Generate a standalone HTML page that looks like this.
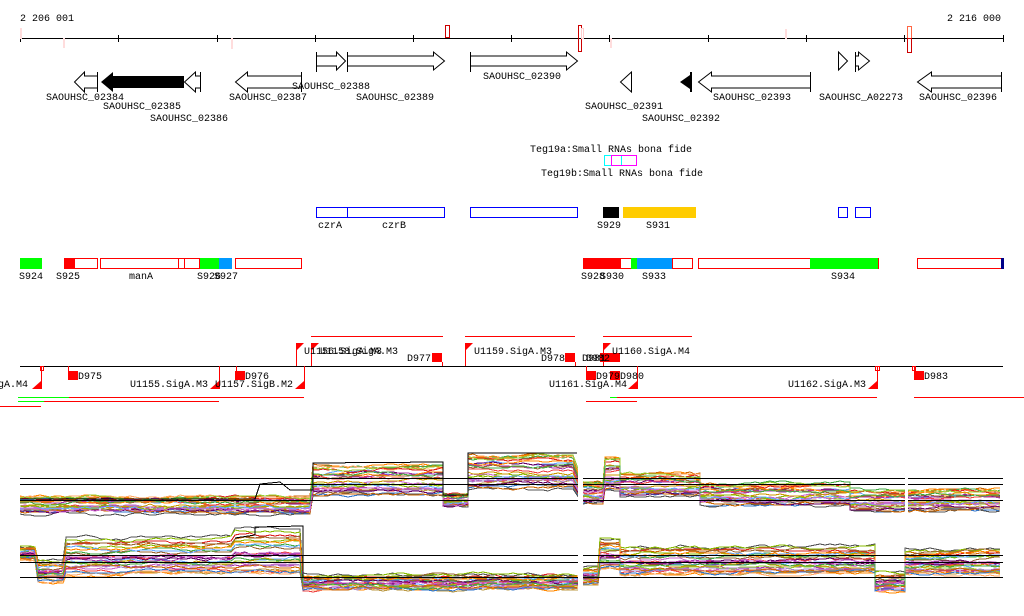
<!DOCTYPE html>
<html><head><meta charset="utf-8"><style>
body{margin:0;background:#fff;width:1024px;height:611px;overflow:hidden}
svg text{font-family:"Liberation Mono","DejaVu Sans Mono",monospace;font-size:10px;fill:#000}
svg line,svg rect,svg polyline{shape-rendering:crispEdges}
</style></head><body>
<svg id="s" width="1024" height="611" xmlns="http://www.w3.org/2000/svg">
<text x="20" y="21">2 206 001</text>
<text x="1001" y="21" text-anchor="end">2 216 000</text>
<line x1="20" y1="38.5" x2="1003" y2="38.5" stroke="#000"/>
<g stroke="#000">
<line x1="20.5" y1="35" x2="20.5" y2="42"/><line x1="118.5" y1="35" x2="118.5" y2="42"/><line x1="217.5" y1="35" x2="217.5" y2="42"/><line x1="315.5" y1="35" x2="315.5" y2="42"/><line x1="413.5" y1="35" x2="413.5" y2="42"/><line x1="511.5" y1="35" x2="511.5" y2="42"/><line x1="609.5" y1="35" x2="609.5" y2="42"/><line x1="708.5" y1="35" x2="708.5" y2="42"/><line x1="806.5" y1="35" x2="806.5" y2="42"/><line x1="904.5" y1="35" x2="904.5" y2="42"/><line x1="1003.5" y1="35" x2="1003.5" y2="42"/>
</g>
<g fill="none">
<rect x="445.5" y="25.5" width="4" height="12" stroke="#c00"/>
<rect x="578.5" y="25.5" width="3" height="26" stroke="#c00"/>
<rect x="581.5" y="28.5" width="2" height="10" stroke="#fcc"/>
<rect x="907.5" y="26.5" width="4" height="12" stroke="#f64"/>
<rect x="907.5" y="38.5" width="4" height="14" stroke="#c00"/>
<rect x="63.5" y="38.5" width="1" height="9" stroke="#fdd"/>
<rect x="231.5" y="38.5" width="1" height="10" stroke="#fdd"/>
<rect x="610.5" y="38.5" width="1" height="9" stroke="#fdd"/>
<rect x="785.5" y="29.5" width="1" height="9" stroke="#fdd"/>
<rect x="20.5" y="28.5" width="1" height="10" stroke="#fdd"/>
</g>
<g fill="#fff" stroke="#000">
<path d="M316.5,52v20M316.5,56h20v-4l9,9l-9,9v-4h-20"/>
<path d="M347.5,52v20M347.5,56h86v-4l11,9l-11,9v-4h-86"/>
<path d="M470.5,52v20M470.5,56h96v-4l11,9l-11,9v-4h-96"/>
<path d="M838.5,52l9,9l-9,9z"/>
<path d="M855.5,52v20M855.5,56h3v-4l11,9l-11,9v-4h-3"/>
<path d="M97.5,72v20M97.5,76h-13v-4l-10,10l10,10v-4h13"/>
<path d="M200.5,72v20M200.5,76h-5v-4l-11,10l11,10v-4h5"/>
<path d="M301.5,72v20M301.5,76h-54v-4l-12,10l12,10v-4h54"/>
<path d="M631.5,72l-11,10l11,10z"/>
<path d="M810.5,72v20M810.5,76h-99v-4l-13,10l13,10v-4h99"/>
<path d="M1001.5,72v20M1001.5,76h-70v-4l-14,10l14,10v-4h70"/>
</g>
<path d="M184,76h-71v-4l-12,10l12,10v-4h71z" fill="#000"/>
<path d="M692,72v20h-2v-3l-10,-7l10,-7v-3z" fill="#000"/>
<text x="292" y="89">SAOUHSC_02388</text>
<text x="356" y="100">SAOUHSC_02389</text>
<text x="483" y="79">SAOUHSC_02390</text>
<text x="46" y="100">SAOUHSC_02384</text>
<text x="103" y="109">SAOUHSC_02385</text>
<text x="150" y="121">SAOUHSC_02386</text>
<text x="229" y="100">SAOUHSC_02387</text>
<text x="585" y="109">SAOUHSC_02391</text>
<text x="642" y="121">SAOUHSC_02392</text>
<text x="713" y="100">SAOUHSC_02393</text>
<text x="819" y="100">SAOUHSC_A02273</text>
<text x="919" y="100">SAOUHSC_02396</text>
<text x="530" y="152">Teg19a:Small RNAs bona fide</text>
<text x="541" y="176">Teg19b:Small RNAs bona fide</text>
<rect x="604.5" y="155.5" width="7" height="10" fill="none" stroke="#0ff"/>
<rect x="611.5" y="155.5" width="25" height="10" fill="none" stroke="#f0f"/>
<line x1="621.5" y1="156" x2="621.5" y2="165" stroke="#0ff"/>
<g fill="none" stroke="#00f">
<rect x="316.5" y="207.5" width="128" height="10"/><line x1="347.5" y1="207" x2="347.5" y2="218"/>
<rect x="470.5" y="207.5" width="107" height="10"/>
<rect x="838.5" y="207.5" width="9" height="10"/>
<rect x="855.5" y="207.5" width="15" height="10"/>
</g>
<rect x="603" y="207" width="16" height="11" fill="#000"/>
<rect x="623" y="207" width="73" height="11" fill="#fc0"/>
<text x="318" y="228">czrA</text><text x="382" y="228">czrB</text>
<text x="597" y="228">S929</text><text x="646" y="228">S931</text>
<g fill="none" stroke="#f00">
<rect x="64.5" y="258.5" width="33" height="10"/>
<rect x="100.5" y="258.5" width="99" height="10"/>
<line x1="178.5" y1="258" x2="178.5" y2="269"/><line x1="184.5" y1="258" x2="184.5" y2="269"/>
<rect x="235.5" y="258.5" width="66" height="10"/>
<rect x="583.5" y="258.5" width="48" height="10"/>
<rect x="672.5" y="258.5" width="20" height="10"/>
<rect x="698.5" y="258.5" width="180" height="10"/>
<rect x="917.5" y="258.5" width="84" height="10"/>
</g>
<rect x="20" y="258" width="22" height="11" fill="#0f0"/>
<rect x="64" y="258" width="11" height="11" fill="#f00"/>
<rect x="200" y="258" width="19" height="11" fill="#0f0"/>
<rect x="219" y="258" width="13" height="11" fill="#09f"/>
<rect x="583" y="258" width="38" height="11" fill="#f00"/>
<rect x="631" y="258" width="6" height="11" fill="#0f0"/>
<rect x="637" y="258" width="35" height="11" fill="#09f"/>
<rect x="810" y="258" width="68" height="11" fill="#0f0"/>
<rect x="1001" y="258" width="3" height="11" fill="#008"/>
<text x="19" y="279">S924</text><text x="56" y="279">S925</text><text x="129" y="279">manA</text>
<text x="197" y="279">S926</text><text x="214" y="279">S927</text>
<text x="581" y="279">S928</text><text x="600" y="279">S930</text><text x="642" y="279">S933</text><text x="831" y="279">S934</text>
<line x1="20" y1="366.5" x2="1003" y2="366.5" stroke="#000"/>
<g stroke="#f00" fill="none">
<line x1="311" y1="336.5" x2="443" y2="336.5"/><line x1="465" y1="336.5" x2="575" y2="336.5"/><line x1="603" y1="336.5" x2="692" y2="336.5"/>
<line x1="296.5" y1="343" x2="296.5" y2="366"/><line x1="311.5" y1="343" x2="311.5" y2="366"/>
<line x1="465.5" y1="343" x2="465.5" y2="366"/><line x1="603.5" y1="343" x2="603.5" y2="366"/>
<line x1="41.5" y1="366" x2="41.5" y2="389"/><line x1="219.5" y1="366" x2="219.5" y2="389"/>
<line x1="304.5" y1="366" x2="304.5" y2="389"/><line x1="637.5" y1="366" x2="637.5" y2="389"/><line x1="877.5" y1="366" x2="877.5" y2="389"/>
<line x1="68.5" y1="366" x2="68.5" y2="372"/><line x1="236.5" y1="366" x2="236.5" y2="372"/>
<line x1="442.5" y1="362" x2="442.5" y2="366"/><line x1="575.5" y1="362" x2="575.5" y2="366"/>
<line x1="914.5" y1="366" x2="914.5" y2="372"/><line x1="586.5" y1="366" x2="586.5" y2="372"/>
<rect x="40.5" y="366.5" width="3" height="4"/><rect x="875.5" y="366.5" width="4" height="4"/><rect x="912.5" y="366.5" width="3" height="4"/>
<line x1="0" y1="406.5" x2="41" y2="406.5"/>
<line x1="69" y1="397.5" x2="304" y2="397.5"/><line x1="44" y1="401.5" x2="219" y2="401.5"/>
<line x1="617" y1="397.5" x2="877" y2="397.5"/><line x1="914" y1="397.5" x2="1024" y2="397.5"/><line x1="586" y1="401.5" x2="637" y2="401.5"/>
</g>
<g stroke="#0f0"><line x1="18" y1="397.5" x2="69" y2="397.5"/><line x1="18" y1="401.5" x2="44" y2="401.5"/><line x1="610" y1="397.5" x2="617" y2="397.5"/></g>
<g fill="#f00">
<path d="M296,343h8l-8,8z"/><path d="M311,343h8l-8,8z"/><path d="M465,343h8l-8,8z"/><path d="M603,343h8l-8,8z"/>
<path d="M41,389h-9l9,-8z"/><path d="M219,389h-9l9,-8z"/><path d="M304,389h-9l9,-8z"/><path d="M637,389h-9l9,-8z"/><path d="M877,389h-9l9,-8z"/>
<rect x="432" y="353" width="10" height="9"/><rect x="565" y="353" width="10" height="9"/><rect x="600" y="353" width="20" height="9"/>
<rect x="68" y="371" width="10" height="9"/><rect x="235" y="371" width="10" height="9"/><rect x="586" y="371" width="10" height="9"/><rect x="610" y="371" width="10" height="9"/><rect x="914" y="371" width="10" height="9"/>
</g>
<text x="304" y="354">U1156.SigA.M3</text><text x="320" y="354">U1158.SigA.M3</text>
<text x="407" y="361">D977</text><text x="474" y="354">U1159.SigA.M3</text>
<text x="541" y="361">D978</text><text x="582" y="361">D981</text><text x="586" y="361">D982</text>
<text x="612" y="354">U1160.SigA.M4</text>
<text x="-2" y="387">gA.M4</text><text x="78" y="379">D975</text><text x="130" y="387">U1155.SigA.M3</text>
<text x="245" y="379">D976</text><text x="215" y="387">U1157.SigB.M2</text>
<text x="549" y="387">U1161.SigA.M4</text><text x="596" y="379">D979</text><text x="620" y="379">D980</text>
<text x="788" y="387">U1162.SigA.M3</text><text x="924" y="379">D983</text>
<g id="plots"></g>
</svg>
<script>
var seed=7;function r(){seed=(seed*16807)%2147483647;return seed/2147483647;}
var cols=["#c60","#e44","#a3a","#8b0","#6af","#963","#f80","#606","#c6c","#4a4","#b94","#fa6","#37c","#d22","#9c3","#a8c","#555","#c90"];
var P1=[[20,313,497,514],[313,443,466,497],[443,468,495,506],[468,577,456,490],[583,605,483,505],[605,620,458,492],[620,700,474,497],[700,850,484,506],[850,1003,490,511]];
var P2=[[20,38,546,560],[38,66,560,582],[66,235,537,575],[235,303,529,575],[303,580,574,590],[583,600,566,585],[600,620,538,570],[620,640,546,575],[640,875,546,575],[875,905,572,592],[905,1003,549,575]];
var g=document.getElementById("plots"),h="";
function draw(P,n){for(var k=0;k<n;k++){var f=r(),pts=[],off=0;
 for(var i=0;i<P.length;i++){var s=P[i];for(var x=s[0];x<=s[1];x+=5){off+=(r()-0.5)*3;off*=0.85;var y=s[2]+(s[3]-s[2])*f+off;pts.push(x+","+y.toFixed(0));}}
 var c=cols[k%cols.length];
 h+='<polyline fill="none" stroke-width="1" stroke="'+c+'" points="'+pts.join(" ")+'"/>';}}
draw(P1,28);draw(P2,28);
h+='<polyline fill="none" stroke="#000" points="20,499 255,499 260,484 280,482 290,490 313,490 313,463 443,462 443,495 468,495 468,453 577,453"/>';
h+='<polyline fill="none" stroke="#000" points="235,538 255,535 255,527 303,526 303,578"/>';
[478,484,500,555,562,577].forEach(function(y){h+='<line x1="20" x2="1003" y1="'+y+'.5" y2="'+y+'.5" stroke="#000"/>';});
h+='<rect x="578" y="445" width="5" height="150" fill="#fff"/><rect x="905" y="445" width="3" height="70" fill="#fff"/>';
g.innerHTML=h;
</script>
</body></html>
